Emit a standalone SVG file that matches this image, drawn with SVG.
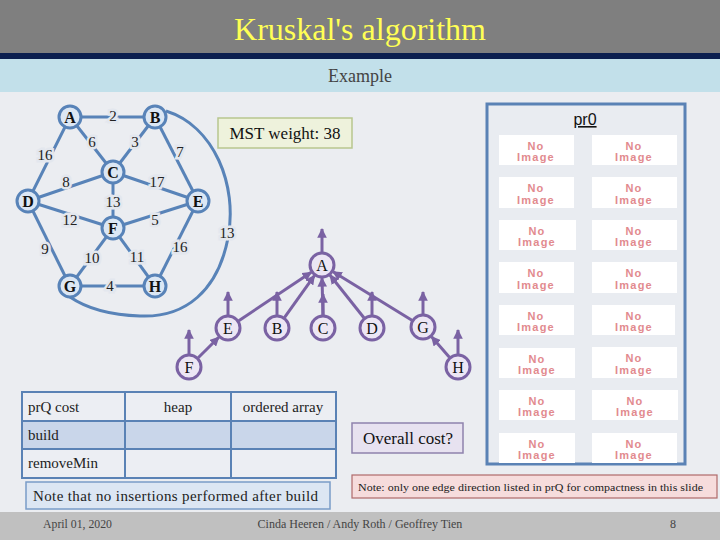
<svg xmlns="http://www.w3.org/2000/svg" width="720" height="540" viewBox="0 0 720 540">
<defs>
<style>
.serif{font-family:"Liberation Serif","Times New Roman",serif}
.sans{font-family:"Liberation Sans",Arial,sans-serif}
.gedge{stroke:#5883b8;stroke-width:3;fill:none}
.gnode circle{fill:#dce7f4;stroke:#5883b8;stroke-width:3}
.gnode text{font-family:"Liberation Serif",serif;font-size:16px;font-weight:bold;text-anchor:middle;fill:#111}
.elab{font-family:"Liberation Serif",serif;font-size:15px;text-anchor:middle;fill:#222;paint-order:stroke;stroke:#e3e7ee;stroke-width:5px}
.tnode circle{fill:#ece6f4;stroke:#7a62a3;stroke-width:3}
.tnode text{font-family:"Liberation Serif",serif;font-size:16px;text-anchor:middle;fill:#111}
.tedge{stroke:#7a62a3;stroke-width:3;fill:none;marker-end:url(#ah)}
.tile rect{fill:#ffffff}
.tile text{font-family:"Liberation Sans",Arial,sans-serif;font-size:11px;font-weight:bold;fill:#e28a8e;text-anchor:middle;letter-spacing:1.2px}
.cell{font-family:"Liberation Serif",serif;font-size:15px;fill:#222}
</style>
<marker id="ah" viewBox="0 0 10 10" refX="9" refY="5" markerWidth="3.2" markerHeight="3.2" orient="auto" markerUnits="strokeWidth">
<path d="M0,0 L10,5 L0,10 z" fill="#7a62a3"/>
</marker>
</defs>

<!-- background and header -->
<rect x="0" y="0" width="720" height="540" fill="#ebedf1"/>
<rect x="0" y="0" width="720" height="53" fill="#7f7f7f"/>
<rect x="0" y="53" width="720" height="6" fill="#0c1f4f"/>
<rect x="0" y="59" width="720" height="33" fill="#c2e0ea"/>
<text class="serif" x="360" y="40" font-size="32" fill="#ffff55" text-anchor="middle">Kruskal's algorithm</text>
<text class="serif" x="360" y="82" font-size="18" fill="#444" text-anchor="middle">Example</text>

<!-- graph connectors -->
<g id="graph-edges">
<line class="gedge" x1="70" y1="117" x2="155" y2="117"/>
<line class="gedge" x1="70" y1="117" x2="113" y2="172"/>
<line class="gedge" x1="155" y1="117" x2="113" y2="172"/>
<line class="gedge" x1="155" y1="117" x2="198" y2="201"/>
<line class="gedge" x1="70" y1="117" x2="28" y2="201"/>
<line class="gedge" x1="28" y1="201" x2="113" y2="172"/>
<line class="gedge" x1="113" y1="172" x2="198" y2="201"/>
<line class="gedge" x1="113" y1="172" x2="113" y2="228"/>
<line class="gedge" x1="28" y1="201" x2="113" y2="228"/>
<line class="gedge" x1="113" y1="228" x2="198" y2="201"/>
<line class="gedge" x1="28" y1="201" x2="70" y2="286"/>
<line class="gedge" x1="70" y1="286" x2="113" y2="228"/>
<line class="gedge" x1="113" y1="228" x2="155" y2="286"/>
<line class="gedge" x1="198" y1="201" x2="155" y2="286"/>
<line class="gedge" x1="70" y1="286" x2="155" y2="286"/>
<path class="gedge" d="M166,111 C214,126 238,185 228,238 C218,290 186,318 140,316 C110,315 86,308 70,297"/>
<text class="elab" x="113" y="121">2</text>
<text class="elab" x="92" y="147">6</text>
<text class="elab" x="135" y="147">3</text>
<text class="elab" x="180" y="157">7</text>
<text class="elab" x="45" y="160">16</text>
<text class="elab" x="66" y="187">8</text>
<text class="elab" x="157" y="187">17</text>
<text class="elab" x="113" y="207">13</text>
<text class="elab" x="70" y="225">12</text>
<text class="elab" x="155" y="225">5</text>
<text class="elab" x="45" y="254">9</text>
<text class="elab" x="92" y="263">10</text>
<text class="elab" x="137" y="262">11</text>
<text class="elab" x="180" y="252">16</text>
<text class="elab" x="110" y="291">4</text>
<text class="elab" x="227" y="238">13</text>
</g>

<g id="A" class="gnode"><circle cx="70" cy="117" r="11"/><text x="70" y="122.5">A</text></g>
<g id="B" class="gnode"><circle cx="155" cy="117" r="11"/><text x="155" y="122.5">B</text></g>
<g id="C" class="gnode"><circle cx="113" cy="172" r="11"/><text x="113" y="177.5">C</text></g>
<g id="D" class="gnode"><circle cx="28" cy="201" r="11"/><text x="28" y="206.5">D</text></g>
<g id="E" class="gnode"><circle cx="198" cy="201" r="11"/><text x="198" y="206.5">E</text></g>
<g id="F" class="gnode"><circle cx="113" cy="228" r="11"/><text x="113" y="233.5">F</text></g>
<g id="G" class="gnode"><circle cx="70" cy="286" r="11"/><text x="70" y="291.5">G</text></g>
<g id="H" class="gnode"><circle cx="155" cy="286" r="11"/><text x="155" y="291.5">H</text></g>

<!-- MST weight box -->
<g id="mst-weight">
<rect x="218" y="118" width="134" height="30" fill="#eef2dc" stroke="#b8c68e" stroke-width="1.5"/>
<text class="serif" x="285" y="139" font-size="17" fill="#111" text-anchor="middle">MST weight: 38</text>
</g>

<!-- union-find tree connectors -->
<g id="tree-edges">
<line class="tedge" x1="238.8" y1="320.7" x2="311.2" y2="272.3"/>
<line class="tedge" x1="284.6" y1="317.4" x2="314.4" y2="275.6"/>
<line class="tedge" x1="323" y1="315" x2="322" y2="278"/>
<line class="tedge" x1="363.9" y1="317.8" x2="330.1" y2="275.2"/>
<line class="tedge" x1="411.9" y1="320.2" x2="333.1" y2="271.8"/>
<line class="tedge" x1="198.2" y1="357.8" x2="218.8" y2="337.2"/>
<line class="tedge" x1="449.4" y1="357.2" x2="431.6" y2="336.8"/>
<line class="tedge" x1="322" y1="252" x2="322" y2="229"/>
<line class="tedge" x1="228" y1="315" x2="228" y2="292"/>
<line class="tedge" x1="277" y1="315" x2="277" y2="292"/>
<line class="tedge" x1="323" y1="315" x2="323" y2="294"/>
<line class="tedge" x1="372" y1="315" x2="372" y2="292"/>
<line class="tedge" x1="423" y1="314" x2="423" y2="292"/>
<line class="tedge" x1="189" y1="354" x2="189" y2="330"/>
<line class="tedge" x1="458" y1="354" x2="458" y2="330"/>
</g>

<g id="tA" class="tnode"><circle cx="322" cy="265" r="12"/><text x="322" y="270.5">A</text></g>
<g id="tE" class="tnode"><circle cx="228" cy="328" r="12"/><text x="228" y="333.5">E</text></g>
<g id="tB" class="tnode"><circle cx="277" cy="328" r="12"/><text x="277" y="333.5">B</text></g>
<g id="tC" class="tnode"><circle cx="323" cy="328" r="12"/><text x="323" y="333.5">C</text></g>
<g id="tD" class="tnode"><circle cx="372" cy="328" r="12"/><text x="372" y="333.5">D</text></g>
<g id="tG" class="tnode"><circle cx="423" cy="327" r="12"/><text x="423" y="332.5">G</text></g>
<g id="tF" class="tnode"><circle cx="189" cy="367" r="12"/><text x="189" y="372.5">F</text></g>
<g id="tH" class="tnode"><circle cx="458" cy="367" r="12"/><text x="458" y="372.5">H</text></g>

<!-- pr0 panel -->
<g id="pr0-panel">
<rect x="487" y="104" width="198" height="360" fill="#e9ecf1" stroke="#5a82b5" stroke-width="3"/>
<text class="sans" x="585" y="125" font-size="16" fill="#111" text-anchor="middle" text-decoration="underline">pr0</text>
<g class="tile"><rect x="499" y="135" width="75" height="30"/><text x="536" y="150">No</text><text x="536" y="161">Image</text></g>
<g class="tile"><rect x="592" y="135" width="85" height="30"/><text x="634" y="150">No</text><text x="634" y="161">Image</text></g>
<g class="tile"><rect x="499" y="177" width="75" height="31"/><text x="536" y="192">No</text><text x="536" y="204">Image</text></g>
<g class="tile"><rect x="592" y="177" width="85" height="31"/><text x="634" y="192">No</text><text x="634" y="204">Image</text></g>
<g class="tile"><rect x="499" y="220" width="77" height="30"/><text x="537" y="235">No</text><text x="537" y="246">Image</text></g>
<g class="tile"><rect x="592" y="220" width="85" height="30"/><text x="634" y="235">No</text><text x="634" y="246">Image</text></g>
<g class="tile"><rect x="499" y="262" width="75" height="31"/><text x="536" y="277">No</text><text x="536" y="289">Image</text></g>
<g class="tile"><rect x="592" y="262" width="85" height="31"/><text x="634" y="277">No</text><text x="634" y="289">Image</text></g>
<g class="tile"><rect x="499" y="305" width="75" height="30"/><text x="536" y="320">No</text><text x="536" y="331">Image</text></g>
<g class="tile"><rect x="592" y="305" width="83" height="30"/><text x="634" y="320">No</text><text x="634" y="331">Image</text></g>
<g class="tile"><rect x="499" y="348" width="76" height="30"/><text x="537" y="363">No</text><text x="537" y="374">Image</text></g>
<g class="tile"><rect x="592" y="347" width="85" height="31"/><text x="634" y="362">No</text><text x="634" y="374">Image</text></g>
<g class="tile"><rect x="499" y="390" width="76" height="30"/><text x="537" y="405">No</text><text x="537" y="416">Image</text></g>
<g class="tile"><rect x="592" y="390" width="86" height="30"/><text x="635" y="405">No</text><text x="635" y="416">Image</text></g>
<g class="tile"><rect x="499" y="433" width="76" height="30"/><text x="537" y="448">No</text><text x="537" y="459">Image</text></g>
<g class="tile"><rect x="592" y="433" width="85" height="30"/><text x="634" y="448">No</text><text x="634" y="459">Image</text></g>
</g>

<!-- cost table -->
<g id="cost-table">
<rect x="22" y="392" width="314" height="29" fill="#eceef3"/>
<rect x="22" y="421" width="314" height="28" fill="#c9d6ea"/>
<rect x="22" y="449" width="314" height="29" fill="#eceef3"/>
<g stroke="#5a82b5" stroke-width="2" fill="none">
<rect x="22" y="392" width="314" height="86"/>
<line x1="22" y1="421" x2="336" y2="421"/>
<line x1="22" y1="449" x2="336" y2="449"/>
<line x1="125" y1="392" x2="125" y2="478"/>
<line x1="231" y1="392" x2="231" y2="478"/>
</g>
<text class="cell" x="28" y="412">prQ cost</text>
<text class="cell" x="178" y="412" text-anchor="middle">heap</text>
<text class="cell" x="283" y="412" text-anchor="middle">ordered array</text>
<text class="cell" x="28" y="440">build</text>
<text class="cell" x="28" y="468">removeMin</text>
</g>

<g id="note-insertions">
<rect x="26" y="482" width="304" height="27" fill="#dce6f3" stroke="#7a9cc8" stroke-width="1.5"/>
<text class="serif" x="33" y="501" font-size="15" fill="#222" textLength="285" lengthAdjust="spacing">Note that no insertions performed after build</text>
</g>

<g id="overall-cost">
<rect x="352" y="423" width="111" height="30" fill="#e7e2f0" stroke="#8f82ad" stroke-width="1.5"/>
<text class="serif" x="408" y="444" font-size="17" fill="#111" text-anchor="middle">Overall cost?</text>
</g>

<g id="note-direction">
<rect x="352" y="475" width="365" height="23" fill="#f6dcdc" stroke="#b06a6a" stroke-width="1.2"/>
<text class="serif" x="358" y="491" font-size="11" fill="#222" textLength="345" lengthAdjust="spacingAndGlyphs">Note: only one edge direction listed in prQ for compactness in this slide</text>
</g>

<!-- footer -->
<rect x="0" y="512" width="720" height="28" fill="#c0c0c0"/>
<text class="serif" x="43" y="528" font-size="12" fill="#444" textLength="69" lengthAdjust="spacingAndGlyphs">April 01, 2020</text>
<text class="serif" x="360" y="528" font-size="12" fill="#444" text-anchor="middle">Cinda Heeren / Andy Roth / Geoffrey Tien</text>
<text class="serif" x="673" y="528" font-size="12" fill="#444" text-anchor="middle">8</text>
</svg>
